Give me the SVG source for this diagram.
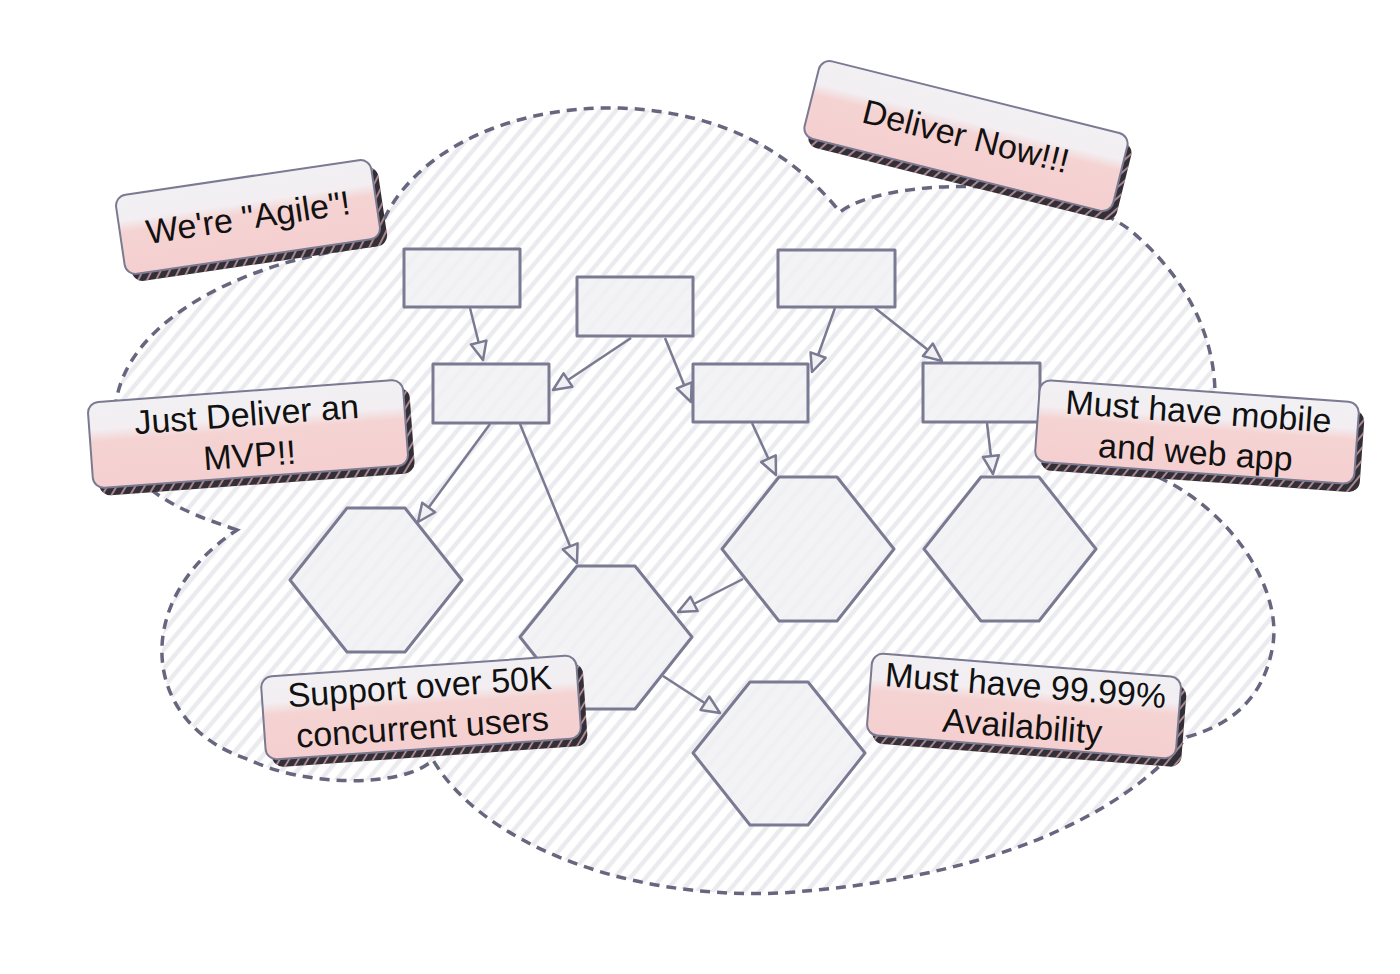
<svg xmlns="http://www.w3.org/2000/svg" width="1400" height="974" viewBox="0 0 1400 974">
  <defs>
    <pattern id="hatch" width="12" height="12" patternUnits="userSpaceOnUse" patternTransform="rotate(40)">
      <line x1="3" y1="0" x2="3" y2="12" stroke="#ebebef" stroke-width="4.5"/>
    </pattern>
    <pattern id="shadowStripes" width="8" height="8" patternUnits="userSpaceOnUse" patternTransform="rotate(35)">
      <line x1="2" y1="0" x2="2" y2="8" stroke="#e9b9bb" stroke-width="1.6"/>
    </pattern>
    <linearGradient id="noteFill" x1="0" y1="0" x2="0" y2="1">
      <stop offset="0" stop-color="#f2f0f3"/>
      <stop offset="0.32" stop-color="#f2eef1"/>
      <stop offset="0.46" stop-color="#f5d3d3"/>
      <stop offset="1" stop-color="#f5cfcf"/>
    </linearGradient>
    <marker id="arrow" viewBox="-20 -11 24 22" refX="0" refY="0" markerWidth="24" markerHeight="22" markerUnits="userSpaceOnUse" orient="auto">
      <path d="M -18,-8 L 0,0 L -18,8 Z" fill="#f1f1f4" stroke="#7a7a92" stroke-width="2.5" stroke-linejoin="round"/>
    </marker>
    <style>
      .cloud { fill: url(#hatch); stroke: #66667e; stroke-width: 3.5; stroke-dasharray: 10 7; }
      .node { fill: #f1f1f4; fill-opacity: 0.85; stroke: #7a7a92; stroke-width: 3; stroke-linejoin: round; }
      .conn { fill: none; stroke: #7a7a92; stroke-width: 2.5; marker-end: url(#arrow); }
      .shadow { fill: #342e37; }
      .stripes { fill: url(#shadowStripes); opacity: 0.8; }
      .note { fill: url(#noteFill); stroke: #7a7a92; stroke-width: 2; }
      .label { font-family: "Liberation Sans", Arial, sans-serif; font-size: 34px; fill: #111111; text-anchor: middle; }
    </style>
  </defs>

  <g id="cloud">
    <path class="cloud" d="M 237,530 C 185,512 118,490 115,420 C 112,330 230,262 375,245 C 395,160 500,105 620,108 C 720,112 790,150 840,212 C 880,180 1050,170 1130,230 C 1190,280 1215,340 1215,395 C 1215,430 1190,460 1160,478 C 1230,510 1285,590 1272,650 C 1262,700 1230,725 1187,737 C 1120,820 980,880 780,893 C 620,900 480,840 433,760 C 400,790 300,785 250,760 C 140,725 130,600 237,530 Z"/>
  </g>

  <g id="box-a"><rect class="node" x="404" y="249" width="116" height="58"/></g>
  <g id="box-b"><rect class="node" x="577" y="277" width="116" height="59"/></g>
  <g id="box-c"><rect class="node" x="433" y="364" width="116" height="59"/></g>
  <g id="box-d"><rect class="node" x="778" y="250" width="117" height="57"/></g>
  <g id="box-e"><rect class="node" x="693" y="364" width="115" height="58"/></g>
  <g id="box-f"><rect class="node" x="923" y="363" width="117" height="59"/></g>

  <g id="hex-1"><polygon class="node" points="347,508 405,508 462,580 405,652 347,652 290,580"/></g>
  <g id="hex-2"><polygon class="node" points="577,566 635,566 692,637 635,709 577,709 520,637"/></g>
  <g id="hex-3"><polygon class="node" points="779,477 837,477 894,549 837,621 779,621 722,549"/></g>
  <g id="hex-4"><polygon class="node" points="981,477 1039,477 1096,549 1039,621 981,621 924,549"/></g>
  <g id="hex-5"><polygon class="node" points="750,682 808,682 865,753 808,825 750,825 693,753"/></g>

  <g id="connectors">
    <path class="conn" d="M 470,308 L 483,360"/>
    <path class="conn" d="M 631,338 L 553,390"/>
    <path class="conn" d="M 665,338 L 691,402"/>
    <path class="conn" d="M 835,308 L 812,372"/>
    <path class="conn" d="M 875,308 L 942,361"/>
    <path class="conn" d="M 490,424 L 418,522"/>
    <path class="conn" d="M 520,424 L 577,563"/>
    <path class="conn" d="M 752,423 L 776,475"/>
    <path class="conn" d="M 987,423 L 993,474"/>
    <path class="conn" d="M 743,579 L 678,612"/>
    <path class="conn" d="M 663,676 L 720,713"/>
  </g>

  <g id="note-agile" transform="translate(248,217) rotate(-8.4)">
    <rect class="shadow" x="-123" y="-32" width="258" height="80" rx="11"/>
    <rect class="stripes" x="-123" y="-32" width="258" height="80" rx="11"/>
    <rect class="note" x="-129" y="-40" width="258" height="80" rx="11"/>
    <text class="label" x="0" y="12">We're "Agile"!</text>
  </g>

  <g id="note-deliver-now" transform="translate(966,136) rotate(14)">
    <rect class="shadow" x="-153" y="-32" width="318" height="80" rx="11"/>
    <rect class="stripes" x="-153" y="-32" width="318" height="80" rx="11"/>
    <rect class="note" x="-159" y="-40" width="318" height="80" rx="11"/>
    <text class="label" x="0" y="12">Deliver Now!!!</text>
  </g>

  <g id="note-mvp" transform="translate(248,434) rotate(-4.2)">
    <rect class="shadow" x="-152" y="-35" width="316" height="86" rx="11"/>
    <rect class="stripes" x="-152" y="-35" width="316" height="86" rx="11"/>
    <rect class="note" x="-158" y="-43" width="316" height="86" rx="11"/>
    <text class="label" x="0" y="-8">Just Deliver an</text>
    <text class="label" x="0" y="33">MVP!!</text>
  </g>

  <g id="note-mobile" transform="translate(1197,432) rotate(4.1)">
    <rect class="shadow" x="-154" y="-33" width="320" height="82" rx="11"/>
    <rect class="stripes" x="-154" y="-33" width="320" height="82" rx="11"/>
    <rect class="note" x="-160" y="-41" width="320" height="82" rx="11"/>
    <text class="label" x="0" y="-9">Must have mobile</text>
    <text class="label" x="0" y="32">and web app</text>
  </g>

  <g id="note-50k" transform="translate(421,707) rotate(-4)">
    <rect class="shadow" x="-152" y="-33" width="316" height="83" rx="11"/>
    <rect class="stripes" x="-152" y="-33" width="316" height="83" rx="11"/>
    <rect class="note" x="-158" y="-41" width="316" height="83" rx="11"/>
    <text class="label" x="0" y="-9">Support over 50K</text>
    <text class="label" x="0" y="32">concurrent users</text>
  </g>

  <g id="note-availability" transform="translate(1024,706) rotate(4.5)">
    <rect class="shadow" x="-149" y="-33" width="310" height="82" rx="11"/>
    <rect class="stripes" x="-149" y="-33" width="310" height="82" rx="11"/>
    <rect class="note" x="-155" y="-41" width="310" height="82" rx="11"/>
    <text class="label" x="0" y="-9">Must have 99.99%</text>
    <text class="label" x="0" y="32">Availability</text>
  </g>
</svg>
